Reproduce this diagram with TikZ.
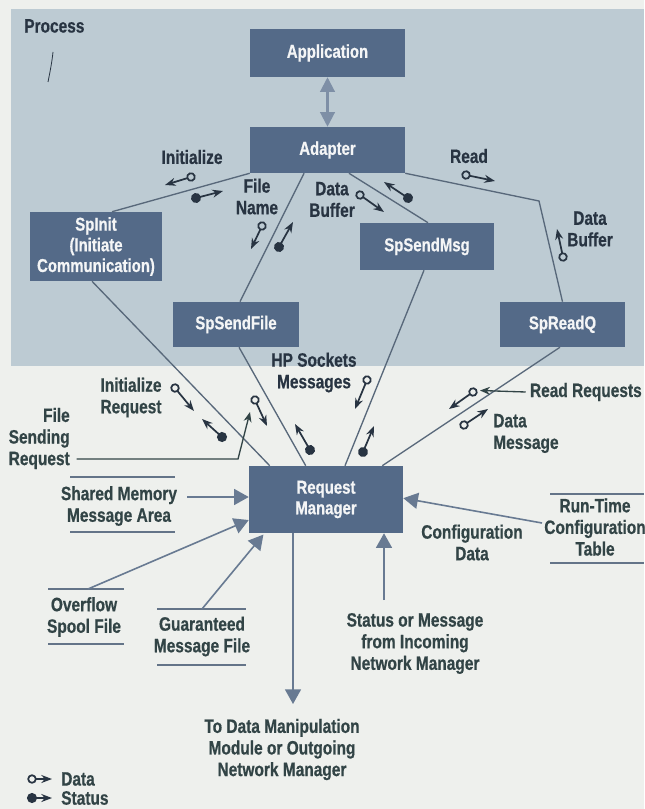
\documentclass[tikz,border=0pt]{standalone}
\usepackage{fontspec}
\setmainfont{Liberation Sans}[FakeStretch=0.8, BoldFeatures={FakeBold=0.6}]
\usetikzlibrary{arrows.meta,calc}

\definecolor{paper}{RGB}{238,240,237}
\definecolor{procbg}{RGB}{189,203,211}
\definecolor{boxfill}{RGB}{84,106,136}
\definecolor{boxtext}{RGB}{244,245,246}
\definecolor{ink}{RGB}{40,52,66}
\definecolor{inklow}{RGB}{50,68,70}
\definecolor{wirec}{RGB}{88,104,122}
\definecolor{flowc}{RGB}{104,122,146}
\definecolor{linkc}{RGB}{126,143,166}
\definecolor{storec}{RGB}{100,116,136}

\tikzset{
  proc/.style={fill=boxfill, text=boxtext, inner sep=0pt, align=center,
    font=\bfseries\fontsize{14}{15.5}\selectfont},
  lbl/.style={text=ink, inner sep=0pt, align=center,
    font=\bfseries\fontsize{14.5}{16.2}\selectfont},
  lbllow/.style={lbl, text=inklow},
  wire/.style={draw=wirec, line width=1pt},
  flow/.style={draw=flowc, line width=1.2pt, -{Triangle[length=11pt,width=12pt]}},
  storebar/.style={draw=storec, line width=1.8pt},
  dglyph/.style={draw=ink, line width=1.3pt,
    {Circle[open,length=7pt]}-{Stealth[length=8pt,width=6pt]}},
  sglyph/.style={draw=ink, line width=1.3pt,
    {Circle[length=7.5pt]}-{Stealth[length=8pt,width=6pt]}},
  callout/.style={draw=inklow, line width=1pt, -{Stealth[length=7.5pt,width=6pt]}}
}

% data (open circle) and status (filled circle) flow marks: circle centre, arrow tip
\newcommand\datamark[2]{\draw[dglyph] ($#1!-3.5pt!#2$) -- #2;}
\newcommand\statusmark[2]{\draw[sglyph] ($#1!-3.75pt!#2$) -- #2;}

\begin{document}
\begin{tikzpicture}[x=0.75pt,y=-0.75pt]
\useasboundingbox (0,0) rectangle (644,809);
\fill[paper] (0,0) rectangle (644,809);

% process area
\fill[procbg] (11,9) rectangle (644,366);
\node[lbl, anchor=west] (process) at (24,26) {Process};
\draw[ink, line width=0.6pt] (53,52) .. controls (52,62) and (50,72) .. (48,82);

% boxes
\node[proc, minimum width=116.25pt, minimum height=36pt] (app) at (327.5,53) {Application};
\node[proc, minimum width=116.25pt, minimum height=34.5pt] (adapter) at (327.5,150) {Adapter};
\node[proc, minimum width=99pt, minimum height=51.75pt] (spinit) at (96,246.5) {SpInit\\(Initiate\\Communication)};
\node[proc, minimum width=94.5pt, minimum height=33.75pt] (sendfile) at (236,324.5) {SpSendFile};
\node[proc, minimum width=100.5pt, minimum height=35.25pt] (sendmsg) at (427,246.5) {SpSendMsg};
\node[proc, minimum width=93.75pt, minimum height=33.75pt] (readq) at (562.5,324.5) {SpReadQ};
\node[proc, minimum width=115.5pt, minimum height=50.25pt] (rm) at (326,499.5) {Request\\Manager};

% application <-> adapter
\draw[draw=linkc, line width=1.6pt, {Triangle[length=11pt,width=11pt]}-{Triangle[length=11pt,width=11pt]}, fill=linkc]
  (app.south) -- (adapter.north);

% adapter to the library calls
\coordinate (bend) at (539,201);
\draw[wire] (adapter.south west) -- ([xshift=12pt]spinit.north);
\draw[wire] ([xshift=-17.6pt]adapter.south) -- ([xshift=3pt]sendfile.north);
\draw[wire] ([xshift=16.1pt]adapter.south) -- ([xshift=0.75pt]sendmsg.north);
\draw[wire] (adapter.south east) -- (bend) -- (readq.north);

% library calls to the request manager
\draw[wire] ([xshift=-3pt]spinit.south) -- ([xshift=15.75pt]rm.north west);
\draw[wire] ([xshift=2.25pt]sendfile.south) -- ([xshift=42.75pt]rm.north west);
\draw[wire] ([xshift=-2.25pt]sendmsg.south) -- ([xshift=14.25pt]rm.north);
\draw[wire] ([xshift=-1.9pt]readq.south) -- ([xshift=-15.75pt]rm.north east);

% labels, upper part
\node[lbl] (linit) at (192,157) {Initialize};
\node[lbl] (lfname) at (257,196.5) {File\\Name};
\node[lbl] (ldbuf) at (332,199.5) {Data\\Buffer};
\node[lbl] (lread) at (469,156) {Read};
\node[lbl] (ldbuf2) at (590,229) {Data\\Buffer};

\datamark{(191,177)}{(165,185)}
\statusmark{(196,198)}{(223,191)}
\datamark{(262,226)}{(251,249)}
\statusmark{(279,247)}{(293,222)}
\datamark{(360,195)}{(384,212)}
\statusmark{(408,198)}{(384,182)}
\datamark{(466,175)}{(495,181)}
\datamark{(563,257)}{(557,229)}

% labels, lower part
\node[lbl] (lhps) at (314,372.5) {HP Sockets\\Messages};
\node[lbllow] (linitreq) at (131,397.5) {Initialize\\Request};
\node[lbllow, align=right, anchor=east] (lfsr) at (70,438.5) {File\\Sending\\Request};
\node[lbllow, anchor=east] (lrr) at (642,392) {Read Requests};
\node[lbllow, align=left, anchor=west] (ldm) at (493,433.5) {Data\\Message};

\datamark{(367,380)}{(355,409)}
\statusmark{(310,450)}{(295,424)}
\statusmark{(363,452)}{(374,426)}
\datamark{(255,400)}{(267,426)}
\datamark{(175,388)}{(194,411)}
\statusmark{(222,437)}{(202,419)}
\datamark{(473,392)}{(449,409)}
\datamark{(464,425)}{(488,409)}

\coordinate (fsrknee) at (238,459);
\draw[callout] ([xshift=5pt]lfsr.south east |- fsrknee) -- (fsrknee) -- (250,412);
\draw[callout] ([xshift=-3pt]lrr.west) -- (480,390.5);

% stores
\node[lbllow] (shm) at (119,506) {Shared Memory\\Message Area};
\draw[storebar] (70,477) -- (175,477);
\draw[storebar] (70,532) -- (175,532);

\node[lbllow] (ovf) at (84,617) {Overflow\\Spool File};
\draw[storebar] (48,589) -- (124,589);
\draw[storebar] (48,644) -- (124,644);

\node[lbllow] (gmf) at (202,636.5) {Guaranteed\\Message File};
\draw[storebar] (157,609) -- (246,609);
\draw[storebar] (157,665) -- (246,665);

\node[lbllow] (rtc) at (595,527) {Run-Time\\Configuration\\Table};
\draw[storebar] (550,494) -- (644,494);
\draw[storebar] (550,563) -- (644,563);

\node[lbllow] (cfgdata) at (472,542.5) {Configuration\\Data};
\node[lbllow] (incoming) at (415,643.5) {Status or Message\\from Incoming\\Network Manager};
\node[lbllow] (outgoing) at (282,749.5) {To Data Manipulation\\Module or Outgoing\\Network Manager};

% flows into and out of the request manager
\coordinate (shmout) at (187,497);
\coordinate (ovfout) at (88,589);
\coordinate (gmfout) at (202,609);
\coordinate (rtcout) at (542,523);
\coordinate (incout) at (384,600);
\coordinate (outend) at (293,704);
\draw[flow] (shmout) -- (rm.west |- shmout);
\draw[flow] (ovfout) -- ([yshift=-15.4pt]rm.west);
\draw[flow] (gmfout) -- ([xshift=11pt,yshift=-1pt]rm.south west);
\draw[flow] (rtcout) -- ([yshift=1pt]rm.east);
\draw[flow] (incout) -- (rm.south -| incout);
\draw[flow] (rm.south -| outend) -- (outend);

% legend
\datamark{(32,779)}{(52,779)}
\statusmark{(32,798)}{(52,798)}
\node[lbllow, anchor=west] (legdata) at (61,779) {Data};
\node[lbllow, anchor=west] (legstatus) at (61,798) {Status};
\end{tikzpicture}
\end{document}
